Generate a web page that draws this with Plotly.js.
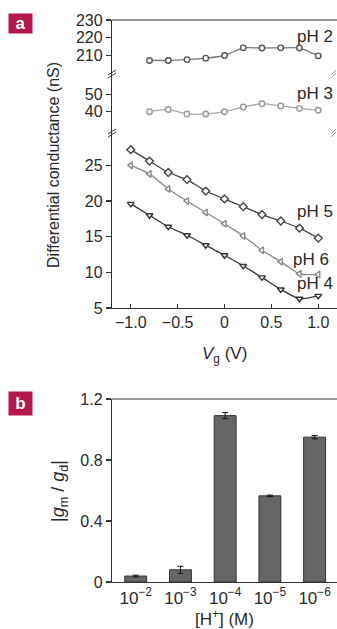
<!DOCTYPE html>
<html><head><meta charset="utf-8">
<script src="https://cdn.plot.ly/plotly-3.0.1.min.js"></script>
<style>html,body{margin:0;padding:0;background:#fff;}#chart{width:337px;height:629px;}</style>
</head><body><div id="chart"></div>
<script>
// Panel a data
const vg = [-1.0,-0.8,-0.6,-0.4,-0.2,0.0,0.2,0.4,0.6,0.8,1.0];
const vgShort = [-0.8,-0.6,-0.4,-0.2,0.0,0.2,0.4,0.6,0.8,1.0];
const pH2 = [207.2,207.2,207.7,208.5,210.0,214.3,214.2,214.3,214.2,209.8];
const pH3 = [40.0,41.3,38.7,38.7,40.0,42.7,44.6,43.3,41.9,40.8];
const pH5 = [27.2,25.6,24.0,23.0,21.4,20.3,19.2,18.1,17.2,16.2,14.8];
const pH6 = [25.0,23.8,21.7,20.0,18.4,16.8,15.1,13.1,11.5,9.8,9.7];
const pH4 = [19.6,18.0,16.4,15.2,13.8,12.4,10.9,9.3,7.6,6.3,6.7];
const xTickVals = [-1.0,-0.5,0,0.5,1.0];
const xTickText = ['−1.0','−0.5','0','0.5','1.0'];
// Panel b data
const hConc = ['10<sup>−2</sup>','10<sup>−3</sup>','10<sup>−4</sup>','10<sup>−5</sup>','10<sup>−6</sup>'];
const ratio = [0.039,0.080,1.091,0.565,0.950];
const ratioErr = [0.006,0.023,0.020,0.005,0.010];

const NARROW = '"Liberation Sans Narrow", "Arial Narrow", "Liberation Sans", sans-serif';
const SANS = '"Liberation Sans", Arial, sans-serif';
const TXT = '#2a2a2a';
const AX = '#333';

function line(x, y, yaxis, color, mcolor, symbol, size) {
  return {x: x, y: y, yaxis: yaxis, xaxis: 'x', type: 'scatter', mode: 'lines+markers',
    line: {color: color, width: 1.3, shape: 'spline', smoothing: 0.6},
    marker: {symbol: symbol, size: size, color: '#fff', line: {color: mcolor, width: 1.4}},
    hoverinfo: 'skip', showlegend: false, cliponaxis: false};
}

const traces = [
  line(vgShort, pH2, 'y3', '#777', '#555', 'circle', 5.5),
  line(vgShort, pH3, 'y2', '#aaa', '#999', 'circle', 5.5),
  line(vg, pH5, 'y', '#444', '#444', 'diamond', 6),
  line(vg, pH6, 'y', '#888', '#888', 'triangle-left', 6),
  line(vg, pH4, 'y', '#333', '#333', 'triangle-down', 6),
  {x: hConc, y: ratio, type: 'bar', xaxis: 'x2', yaxis: 'y4', width: 0.49,
   marker: {color: '#666', line: {color: '#333', width: 1}},
   error_y: {type: 'data', array: ratioErr, visible: true, color: '#111', thickness: 1, width: 3},
   hoverinfo: 'skip', showlegend: false}
];

const tickFont = {family: SANS, size: 16, color: TXT};
const yCommon = {showline: true, linecolor: AX, linewidth: 1.2, ticks: 'outside', ticklen: 5,
  tickcolor: AX, tickwidth: 1.2, showgrid: false, zeroline: false, tickfont: tickFont, fixedrange: true};

function brk(xa, yp, dx0, dx1, color) {
  return [0, 3].map(off => ({type: 'line', xref: 'paper', yref: 'paper', xsizemode: 'pixel', ysizemode: 'pixel',
    xanchor: xa, yanchor: yp, x0: dx0, x1: dx1, y0: -3 + off, y1: 2 + off, line: {color: color, width: 1}}));
}

function lab(text, x, y, size, extra) {
  return Object.assign({text: text, xref: 'paper', yref: 'paper', x: x, y: y, xanchor: 'center', yanchor: 'middle',
    showarrow: false, font: {family: NARROW, size: size, color: TXT}}, extra || {});
}
function ph(text, x, y, yref) {
  return {text: text, xref: 'x', yref: yref, x: x, y: y, xanchor: 'center', yanchor: 'middle', showarrow: false,
    font: {family: NARROW, size: 17, color: TXT}};
}

const layout = {
  width: 337, height: 629,
  margin: {l: 112, r: 0, t: 20, b: 47},
  paper_bgcolor: '#fff', plot_bgcolor: 'rgba(0,0,0,0)',
  showlegend: false,
  xaxis: {domain: [0, 1], anchor: 'y', range: [-1.2, 1.2], tickvals: xTickVals, ticktext: xTickText,
    ticks: 'inside', ticklen: 4, tickcolor: AX, tickwidth: 1.2, showline: true, linecolor: AX, linewidth: 1.2,
    showgrid: false, zeroline: false, tickfont: tickFont, fixedrange: true},
  yaxis: Object.assign({}, yCommon, {domain: [0.4875, 0.7972], anchor: 'x', range: [5, 29.4], tickvals: [5,10,15,20,25]}),
  yaxis2: Object.assign({}, yCommon, {domain: [0.7972, 0.9021], anchor: 'x', range: [27.2, 61.1], tickvals: [40,50]}),
  yaxis3: Object.assign({}, yCommon, {domain: [0.9021, 1], anchor: 'x', range: [199, 230], tickvals: [210,220,230]}),
  xaxis2: {domain: [0, 1], anchor: 'y4', type: 'category', range: [-0.53, 4.5], ticks: '', showline: true,
    linecolor: AX, linewidth: 1.2, showgrid: false, zeroline: false,
    tickfont: {family: SANS, size: 17, color: TXT}, fixedrange: true},
  yaxis4: Object.assign({}, yCommon, {domain: [0, 0.3256], anchor: 'x2', range: [0, 1.2],
    tickvals: [0, 0.4, 0.8, 1.2], ticktext: ['0', '0.4', '0.8', '1.2']}),
  shapes: [
    {type: 'line', xref: 'paper', yref: 'paper', x0: 0, x1: 1, y0: 1, y1: 1, line: {color: AX, width: 1.2}},
    {type: 'line', xref: 'paper', yref: 'paper', x0: 0, x1: 1, y0: 0.3256, y1: 0.3256, line: {color: AX, width: 1.2}},
    ...brk(0, 0.9021, -4, 4, AX),
    ...brk(0, 0.7972, -4, 4, AX),
    ...brk(1, 0.9021, -6, -1, '#999'),
    ...brk(1, 0.7972, -6, -1, '#999')
  ],
  annotations: [
    {text: '<b>a</b>', xref: 'paper', yref: 'paper', x: -0.462, y: 1.0125, xanchor: 'left', yanchor: 'top',
     showarrow: false, bgcolor: '#b3174b', width: 23, height: 19, borderpad: 0,
     font: {family: SANS, size: 17, color: '#fff'}},
    {text: '<b>b</b>', xref: 'paper', yref: 'paper', x: -0.462, y: 0.34, xanchor: 'left', yanchor: 'top',
     showarrow: false, bgcolor: '#b3174b', width: 23, height: 23, borderpad: 0,
     font: {family: SANS, size: 17, color: '#fff'}},
    lab('Differential conductance (nS)', -0.258, 0.742, 16, {textangle: -90}),
    lab('|<i>g</i><sub>m</sub> / <i>g</i><sub>d</sub>|', -0.231, 0.162, 18, {textangle: -90}),
    lab('<i>V</i><sub>g</sub> (V)', 0.5, 0.404, 17),
    lab('[H<sup>+</sup>] (M)', 0.5, -0.064, 17),
    ph('pH 2', 0.97, 220.5, 'y3'),
    ph('pH 3', 0.97, 50.5, 'y2'),
    ph('pH 5', 0.96, 18.6, 'y'),
    ph('pH 6', 0.92, 11.8, 'y'),
    ph('pH 4', 0.97, 8.5, 'y')
  ]
};

Plotly.newPlot('chart', traces, layout, {displayModeBar: false, staticPlot: true});
</script>
</body></html>
